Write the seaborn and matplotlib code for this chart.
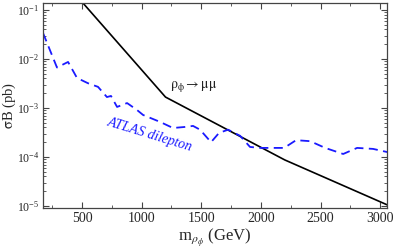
import numpy as np
import pandas as pd
import matplotlib
matplotlib.use("Agg")
import matplotlib.pyplot as plt
import seaborn as sns
from matplotlib.ticker import MultipleLocator, LogLocator

# --- data ---
rho_mass = [500, 1200, 2200, 3060]
rho_xsec = [0.146, 1.67e-3, 8.7e-5, 1.05e-5]

atlas_mass = [173, 290, 383, 458, 550, 634, 709, 743, 794, 878, 961, 1012, 1154,
              1263, 1364, 1431, 1490, 1582, 1649, 1725, 1826, 1909, 1993, 2195,
              2295, 2413, 2539, 2690, 2807, 2941, 3059]
atlas_xsec = [3.4e-2, 6.7e-3, 8.7e-3, 4.1e-3, 3.2e-3, 2.7e-3, 1.67e-3, 1.76e-3,
              1.05e-3, 1.26e-3, 9.1e-4, 7.2e-4, 5.2e-4, 3.9e-4, 4.1e-4, 4.3e-4,
              3.6e-4, 2.0e-4, 3.1e-4, 3.6e-4, 2.7e-4, 1.6e-4, 1.53e-4, 1.53e-4,
              2.2e-4, 2.1e-4, 1.53e-4, 1.15e-4, 1.53e-4, 1.46e-4, 1.26e-4]

x_ticks = [500, 1000, 1500, 2000, 2500, 3000]

sns.set_style("ticks")
plt.rcParams["font.family"] = ["Liberation Serif", "DejaVu Serif"]
plt.rcParams["mathtext.fontset"] = "stix"

fig = plt.figure(figsize=(3.95, 2.5), dpi=100)
ax = fig.add_axes([0.108, 0.167, 0.8725, 0.821])

df_rho = pd.DataFrame({"m": rho_mass, "s": rho_xsec})
df_atl = pd.DataFrame({"m": atlas_mass, "s": atlas_xsec})

sns.lineplot(data=df_rho, x="m", y="s", ax=ax, color="black", lw=1.2,
             estimator=None, sort=False)
sns.lineplot(data=df_atl, x="m", y="s", ax=ax, color="#1a1aff", lw=1.3,
             estimator=None, sort=False, linestyle=(0, (5, 3)))

ax.set_yscale("log")
ax.set_xlim(170, 3060)
ax.set_ylim(8.97e-6, 0.139)
ax.set_xticks(x_ticks)
ax.xaxis.set_minor_locator(MultipleLocator(250))
ax.yaxis.set_major_locator(LogLocator(base=10, numticks=10))
ax.yaxis.set_minor_locator(LogLocator(base=10, subs=np.arange(2, 10), numticks=20))

ax.tick_params(which="both", direction="in", top=True, right=True,
               color="#444444")
ax.tick_params(axis="x", labelsize=10, pad=3)
ax.tick_params(axis="y", labelsize=8.5, pad=2.5)
ax.tick_params(which="major", length=4, width=0.8)
ax.tick_params(which="minor", length=2, width=0.6)
for sp in ax.spines.values():
    sp.set_color("#444444")
    sp.set_linewidth(0.9)

ax.set_xlabel(r"m$_{\rho_\phi}$ (GeV)", fontsize=12, labelpad=1)
ax.set_ylabel(r"$\mathrm{\sigma}$B (pb)", fontsize=10.5)
ax.yaxis.set_label_coords(-0.073, 0.5)

ax.text(1240, 2.55e-3, r"$\mathrm{\rho_\phi \rightarrow \mu\mu}$", fontsize=10,
        color="#222222", ha="left", va="baseline")
ax.text(1070, 2.8e-4, "ATLAS dilepton", fontsize=10, color="#1a1aff",
        style="italic", rotation=-17, ha="center", va="center",
        rotation_mode="anchor")

fig.savefig("out.png", dpi=100)
